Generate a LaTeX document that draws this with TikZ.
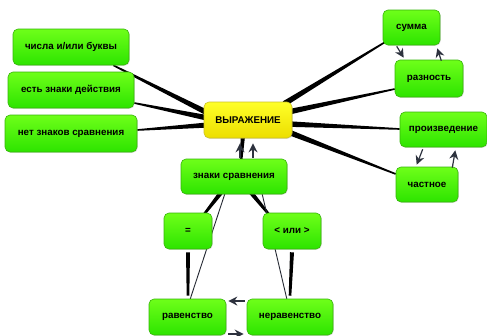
\documentclass[tikz,border=0pt]{standalone}
\usepackage{fontspec}
\setmainfont{Liberation Sans}
\usetikzlibrary{calc,arrows.meta,shadows}
\definecolor{gtop}{RGB}{110,255,25}
\definecolor{gbot}{RGB}{45,228,0}
\definecolor{gline}{RGB}{55,180,10}
\definecolor{ytop}{RGB}{255,255,40}
\definecolor{ybot}{RGB}{236,222,0}
\definecolor{arr}{RGB}{45,50,62}
\pgfdeclarelayer{bg}
\pgfsetlayers{bg,main}
\newcommand\branchline[4]{%
  \fill[black] ($(#1)!#3!90:(#2)$) -- ($(#2)!#4!-90:(#1)$) -- ($(#2)!#4!90:(#1)$) -- ($(#1)!#3!-90:(#2)$) -- cycle;}
\tikzset{
  box/.style={rectangle, rounded corners=5pt, draw=gline, line width=0.6pt,
    top color=gtop, bottom color=gbot, font=\bfseries\fontsize{9.8}{11}\selectfont,
    inner sep=0pt, drop shadow={shadow xshift=0.8pt, shadow yshift=-0.8pt, opacity=0.25}},
  centre/.style={box, draw=ybot!70!gray, top color=ytop, bottom color=ybot},
  link/.style={arr, line width=1.2pt, -{Stealth[length=9pt,width=9pt]}},
  thin/.style={arr!80!black, line width=0.9pt}
}
\begin{document}
\begin{tikzpicture}[x=1pt,y=-1pt]
\useasboundingbox (0,0) rectangle (487,335);
\clip (0,0) rectangle (487,335);
\node[box, minimum width=116pt, minimum height=36pt] (n1) at (71,47) {числа и/или буквы};
\node[box, minimum width=126pt, minimum height=36pt] (n2) at (71,90) {есть знаки действия};
\node[box, minimum width=132pt, minimum height=37pt] (n3) at (71,133.5) {нет знаков сравнения};
\node[centre, minimum width=88pt, minimum height=36pt] (c) at (248,120) {ВЫРАЖЕНИЕ};
\node[box, minimum width=57pt, minimum height=35pt] (s) at (411.5,27.5) {сумма};
\node[box, minimum width=68pt, minimum height=37pt] (r) at (429,78.5) {разность};
\node[box, minimum width=87pt, minimum height=35pt] (p) at (443.5,129.5) {произведение};
\node[box, minimum width=62pt, minimum height=35pt] (q) at (427,184.5) {частное};
\node[box, minimum width=106pt, minimum height=35pt] (z) at (234,176.5) {знаки сравнения};
\node[box, minimum width=48pt, minimum height=36pt] (e) at (188,231) {=};
\node[box, minimum width=58pt, minimum height=36pt] (l) at (292,231) {< или >};
\node[box, minimum width=77pt, minimum height=36pt] (ra) at (187.5,317) {равенство};
\node[box, minimum width=86pt, minimum height=36pt] (nr) at (290,317) {неравенство};
\begin{pgfonlayer}{bg}
  % branches from the centre
  \branchline{[xshift=4pt,yshift=7pt]c.west}{[xshift=-16pt]n1.south east}{2.8pt}{0.8pt}
  \branchline{[xshift=4pt,yshift=2pt]c.west}{[yshift=-13pt]n2.east}{2.8pt}{0.8pt}
  \branchline{[xshift=4pt,yshift=-5pt]c.west}{[yshift=3.5pt]n3.east}{2.6pt}{0.8pt}
  \branchline{[xshift=-8pt,yshift=-2pt]c.north east}{[xshift=2pt,yshift=3pt]s.south west}{2.8pt}{0.8pt}
  \branchline{[xshift=-4pt,yshift=8pt]c.east}{[yshift=-10.5pt]r.west}{2.8pt}{0.8pt}
  \branchline{[xshift=-4pt,yshift=-4pt]c.east}{[yshift=0.5pt]p.west}{2.8pt}{0.8pt}
  \branchline{[xshift=-4pt,yshift=-12pt]c.east}{[yshift=10.5pt]q.west}{2.8pt}{0.8pt}
  \branchline{[xshift=-5pt,yshift=4pt]c.south}{[xshift=7pt,yshift=-3pt]z.north}{2.2pt}{1.2pt}
  % branches below
  \branchline{[xshift=-12pt,yshift=3pt]z.south}{[xshift=15pt,yshift=-3pt]e.north}{2.2pt}{1.2pt}
  \branchline{[xshift=16pt,yshift=3pt]z.south}{[xshift=-22pt,yshift=-3pt]l.north}{2.2pt}{1.2pt}
  \branchline{[yshift=-3pt]e.south}{[xshift=0.5pt,yshift=3pt]ra.north}{2pt}{1.3pt}
  \branchline{[yshift=-3pt]l.south}{[yshift=3pt]nr.north}{2pt}{1.3pt}
  \draw[thin] ([xshift=-9pt,yshift=1pt]z.south) -- ([xshift=2.5pt,yshift=-1pt]ra.north);
  \draw[thin] ([xshift=28pt,yshift=1pt]z.south) -- ([xshift=-3pt,yshift=-1pt]nr.north);
\end{pgfonlayer}
% arrows
\draw[link] ([xshift=14pt,yshift=-1pt]s.south west) -- ([xshift=9pt,yshift=2pt]r.north west);
\draw[link] ([xshift=-22pt,yshift=-1pt]r.north east) -- ([xshift=-3pt,yshift=-3pt]s.south east);
\draw[link] ([xshift=23pt,yshift=-2pt]p.south west) -- ([xshift=21pt,yshift=2pt]q.north west);
\draw[link] ([xshift=-6pt,yshift=-1pt]q.north east) -- ([xshift=-32pt,yshift=-3pt]p.south east);
\draw[link] ([xshift=6pt,yshift=1pt]z.north) -- ([xshift=-8pt,yshift=-5pt]c.south);
\draw[link] ([xshift=19pt,yshift=1pt]z.north) -- ([xshift=5pt,yshift=-5pt]c.south);
\draw[link] ([xshift=-2pt,yshift=16pt]nr.west) -- ([xshift=2pt,yshift=16pt]ra.east);
\draw[link] ([xshift=2pt,yshift=-17pt]ra.east) -- ([xshift=-3pt,yshift=-17pt]nr.west);
\end{tikzpicture}
\end{document}
